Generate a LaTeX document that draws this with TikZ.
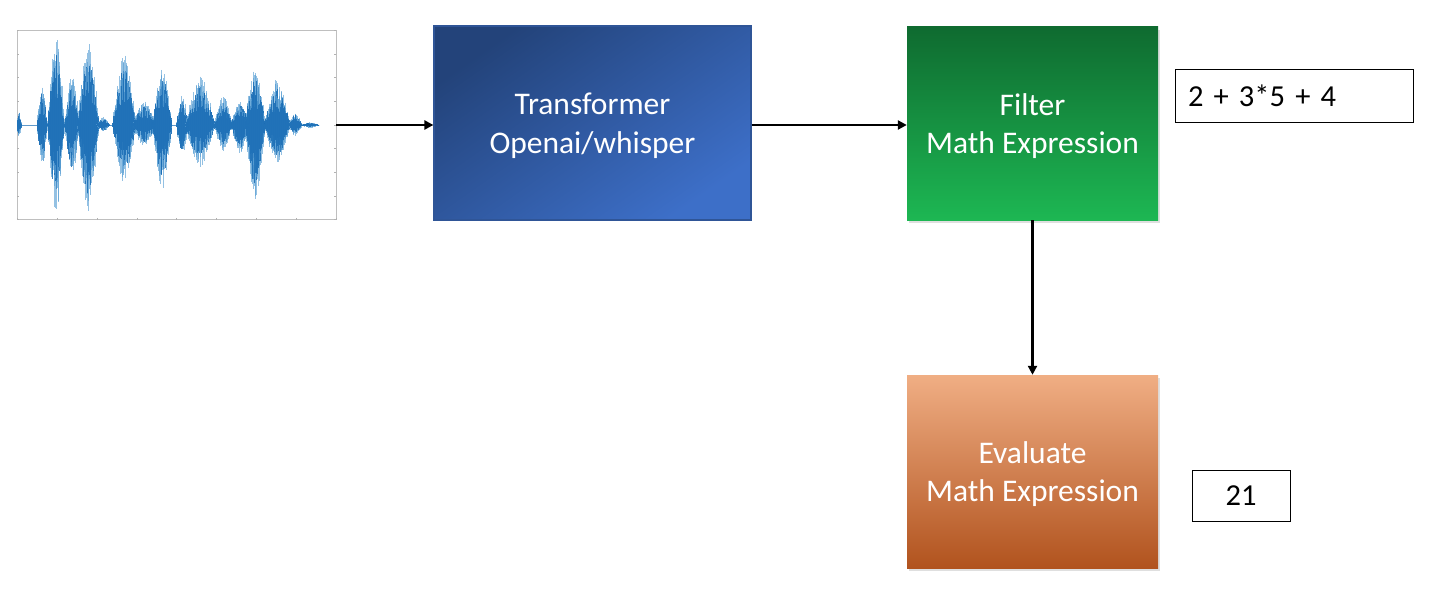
\documentclass[tikz,border=0pt]{standalone}
\usepackage{fontspec}
\setmainfont{Carlito}
\usetikzlibrary{arrows.meta,shadows}
\definecolor{blueA}{HTML}{23437A}
\definecolor{blueB}{HTML}{3D6FC8}
\definecolor{blueEdge}{HTML}{2F5597}
\definecolor{greenA}{HTML}{0F6B30}
\definecolor{greenB}{HTML}{1DB753}
\definecolor{orangeA}{HTML}{F0AE84}
\definecolor{orangeM}{HTML}{EC8445}
\definecolor{orangeB}{HTML}{B1531E}
\definecolor{waveLight}{HTML}{5A9FD4}
\definecolor{waveDark}{HTML}{1A6DB5}
\tikzset{
  blocktext/.style={font=\fontsize{31.5}{38.5}\selectfont, text=white, align=center, text depth=0pt},
  block/.style={blocktext, minimum width=251pt, minimum height=193pt, inner sep=0pt},
  shadowed/.style={drop shadow={opacity=0.25, shadow xshift=2pt, shadow yshift=-3pt}},
  outbox/.style={draw=black, line width=1pt, font=\fontsize{30.5}{37}\selectfont, inner sep=0pt},
  flow/.style={line width=2.4pt, -{Triangle[length=9pt,width=9pt]}},
}
\begin{document}
\begin{tikzpicture}[x=1pt,y=-1pt]
\useasboundingbox (0,0) rectangle (1454,594);
% waveform plot
\node[draw=black!25, line width=0.6pt, minimum width=319pt, minimum height=189pt, inner sep=0pt] (wave) at (176.5,125) {};
\foreach \k in {0,...,8} {
  \draw[black!30, line width=0.4pt] (17,{30.5+\k*23.6}) -- (19,{30.5+\k*23.6});
  \draw[black!30, line width=0.4pt] (336,{30.5+\k*23.6}) -- (334,{30.5+\k*23.6});
}
\foreach \k in {0,...,8} {
  \draw[black!30, line width=0.4pt] ({17+\k*39.9},219.5) -- ({17+\k*39.9},217.5);
}
\draw[waveDark!70, line width=0.8pt] (18,125) -- (318,125);
\pgfmathsetseed{11}
\foreach \c/\w/\a/\b in {19/2.5/16/14, 42/5.5/40/44, 56/8.5/94/94, 72/7.5/52/54, 88/11/84/89, 103/7/8/7, 124/12/74/60, 144/12/24/22, 162/10/60/66, 182/6/32/34, 200/15/49/42, 223/9/30/27, 240/9.5/25/30, 255/10.5/60/76, 277/13/47/40, 295/7/13/11, 310/9/3/3} {
  \pgfmathsetmacro\st{\c-\w}
  \pgfmathsetmacro\sn{\c-\w+0.4}
  \pgfmathsetmacro\en{\c+\w}
  \foreach \x in {\st,\sn,...,\en} {
    \pgfmathsetmacro\tt{(\x-\c)/\w}
    \pgfmathsetmacro\ee{max(0,1-abs(\tt)^1.5)}
    \pgfmathsetmacro\up{\a*\ee*(0.5+0.5*rnd)}
    \pgfmathsetmacro\dn{\b*\ee*(0.5+0.5*rnd)}
    \draw[waveLight, opacity=0.65, line width=0.6pt] (\x,{125-\up}) -- (\x,{125+\dn});
    \pgfmathsetmacro\upb{\a*\ee*(0.3+0.5*rnd)}
    \pgfmathsetmacro\dnb{\b*\ee*(0.3+0.5*rnd)}
    \draw[waveDark, opacity=0.85, line width=0.6pt] (\x,{125-\upb}) -- (\x,{125+\dnb});
  }
}
% blocks
\node[blocktext, minimum width=317pt, minimum height=194pt, inner sep=0pt,
      draw=blueEdge, line width=1.2pt, top color=blueA, bottom color=blueB, shading angle=35]
      (tr) at (592.5,123) {Transformer\\Openai/whisper};
\node[block, shadowed, top color=greenA, bottom color=greenB] (flt) at (1032.5,123.5) {Filter\\Math Expression};
\node[block, shadowed, top color=orangeA, middle color=orangeM, bottom color=orangeB] (ev) at (1032.5,471.5) {Evaluate\\Math Expression};
% output boxes
\node[outbox, minimum width=238pt, minimum height=52pt, text width=212pt, align=left] (o1) at (1294,96) {2 + 3*5 + 4};
\node[outbox, minimum width=98pt, minimum height=51pt, align=center] (o2) at (1241,495.5) {21};
% arrows
\draw[flow] (wave.east) -- (wave.east -| tr.west);
\draw[flow] (tr.east |- wave.east) -- (flt.west |- wave.east);
\draw[flow] (flt.south) -- (ev.north);
\end{tikzpicture}
\end{document}
